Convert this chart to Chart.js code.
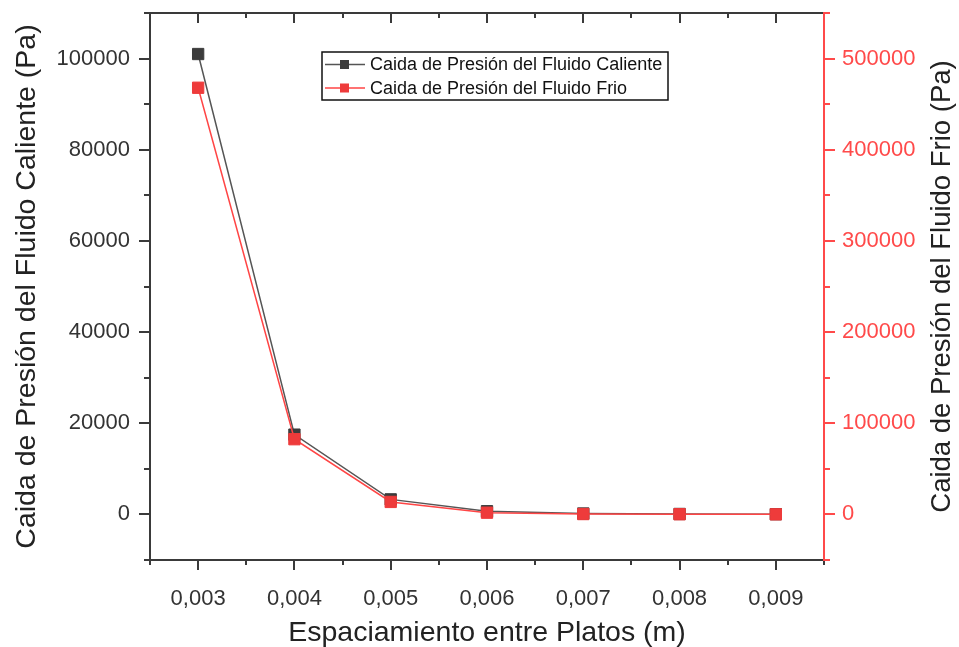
<!DOCTYPE html>
<html>
<head>
<meta charset="utf-8">
<script src="https://cdn.jsdelivr.net/npm/chart.js@4.4.1/dist/chart.umd.min.js"></script>
<style>
  html, body { margin: 0; padding: 0; background: #fff; }
  #wrap { width: 959px; height: 647px; }
</style>
</head>
<body>
<div id="wrap"><canvas id="chart-line"></canvas></div>
<script>
// plate spacing (m) and pressure drops (Pa)
var spacing = [0.003, 0.004, 0.005, 0.006, 0.007, 0.008, 0.009];
var hotDrop = [101000, 17500, 3300, 700, 200, 100, 50];
var coldDrop = [468000, 82500, 13700, 1900, 400, 200, 100];

var hotLabel = 'Caida de Presión del Fluido Caliente';
var coldLabel = 'Caida de Presión del Fluido Frio';
var xTitle = 'Espaciamiento entre Platos (m)';
var yTitle = 'Caida de Presión del Fluido Caliente (Pa)';
var y2Title = 'Caida de Presión del Fluido Frio (Pa)';

var FONT = "'Liberation Sans', Arial, sans-serif";
var DARK = '#3a3a3a';
var RED = '#ff4a4a';

Chart.defaults.font.family = FONT;

function toPoints(xs, ys) {
  return xs.map(function (x, i) { return { x: x, y: ys[i] }; });
}

// keep the plot box fixed: no extra room for half labels
function noEdgePadding(s) {
  s.paddingTop = 0; s.paddingBottom = 0;
  s.paddingLeft = 0; s.paddingRight = 0;
}

// axis lines + major/minor ticks, right-hand title, framed legend
var axisFrame = {
  id: 'axisFrame',
  afterDraw: function (chart) {
    var c = chart.ctx, a = chart.chartArea;
    var sx = chart.scales.x, sy = chart.scales.y, sy2 = chart.scales.y2;
    var i, v, p, len;
    c.save();
    c.lineWidth = 2;
    c.strokeStyle = DARK;
    c.beginPath();
    c.moveTo(a.left, a.top); c.lineTo(a.right, a.top);
    c.moveTo(a.left, a.bottom); c.lineTo(a.right, a.bottom);
    c.moveTo(a.left, a.top); c.lineTo(a.left, a.bottom + 1);
    // x: every 0.0005, labelled every 0.001
    for (i = 5; i <= 19; i++) {
      p = Math.round(sx.getPixelForValue(i * 0.0005));
      len = i % 2 === 0 ? 10 : 5;
      c.moveTo(p, a.bottom); c.lineTo(p, a.bottom + len);
      c.moveTo(p, a.top); c.lineTo(p, a.top + len);
    }
    // left y: every 10000, labelled every 20000
    for (v = -10000; v <= 110000; v += 10000) {
      p = Math.round(sy.getPixelForValue(v));
      len = v % 20000 === 0 ? 11 : 6;
      c.moveTo(a.left, p); c.lineTo(a.left - len, p);
    }
    c.stroke();

    // right y axis in red
    c.strokeStyle = RED;
    c.beginPath();
    c.moveTo(a.right, a.top - 1); c.lineTo(a.right, a.bottom + 1);
    for (v = -50000; v <= 550000; v += 50000) {
      p = Math.round(sy2.getPixelForValue(v));
      len = v % 100000 === 0 ? 11 : 6;
      c.moveTo(a.right, p); c.lineTo(a.right + len, p);
    }
    c.stroke();

    // right title, reading bottom to top
    c.fillStyle = '#222';
    c.font = '27.5px ' + FONT;
    c.textAlign = 'center';
    c.textBaseline = 'middle';
    c.translate(942, (a.top + a.bottom) / 2);
    c.rotate(-Math.PI / 2);
    c.fillText(y2Title, 0, 0);
    c.restore();

    // legend
    c.save();
    var bx = 322, by = 52, bw = 346, bh = 48;
    c.lineWidth = 1.5;
    c.strokeStyle = '#111';
    c.strokeRect(bx, by, bw, bh);
    c.font = '18px ' + FONT;
    c.textAlign = 'left';
    c.textBaseline = 'middle';
    chart.data.datasets.forEach(function (ds, k) {
      var ry = by + 12.5 + k * 23.5;
      c.strokeStyle = ds.borderColor;
      c.lineWidth = 1.5;
      c.beginPath();
      c.moveTo(bx + 3, ry); c.lineTo(bx + 43, ry);
      c.stroke();
      c.fillStyle = ds.pointBackgroundColor;
      c.fillRect(bx + 18, ry - 4.5, 9, 9);
      c.fillStyle = '#111';
      c.fillText(ds.label, bx + 48, ry + 1);
    });
    c.restore();
  }
};

new Chart(document.getElementById('chart-line').getContext('2d'), {
  type: 'line',
  data: {
    datasets: [
      {
        label: hotLabel,
        data: toPoints(spacing, hotDrop),
        yAxisID: 'y',
        order: 2,
        borderColor: '#555555',
        borderWidth: 1.5,
        pointStyle: 'rect',
        pointRadius: 8,
        pointBorderWidth: 1,
        pointBackgroundColor: '#3c3c3c',
        pointBorderColor: '#3c3c3c',
        tension: 0,
        fill: false
      },
      {
        label: coldLabel,
        data: toPoints(spacing, coldDrop),
        yAxisID: 'y2',
        order: 1,
        borderColor: '#ff4545',
        borderWidth: 1.5,
        pointStyle: 'rect',
        pointRadius: 8,
        pointBorderWidth: 1,
        pointBackgroundColor: '#ee3b3b',
        pointBorderColor: '#ee3b3b',
        tension: 0,
        fill: false
      }
    ]
  },
  options: {
    responsive: true,
    maintainAspectRatio: false,
    animation: false,
    layout: { padding: { top: 13, left: 0, right: 0, bottom: 0 } },
    plugins: {
      legend: { display: false },
      tooltip: { enabled: false }
    },
    scales: {
      x: {
        type: 'linear',
        position: 'bottom',
        min: 0.0025,
        max: 0.0095,
        grid: { display: false, drawTicks: false },
        border: { display: false },
        afterFit: function (s) { s.height = 87; noEdgePadding(s); },
        ticks: {
          stepSize: 0.0005,
          autoSkip: false,
          maxRotation: 0,
          padding: 26,
          color: '#333',
          font: { size: 22 },
          callback: function (v) {
            var k = v * 1000;
            if (Math.abs(k - Math.round(k)) > 1e-6) return '';
            return v.toFixed(3).replace('.', ',');
          }
        },
        title: {
          display: true,
          text: xTitle,
          color: '#222',
          font: { size: 28.5 },
          padding: { top: 0, bottom: -3 }
        }
      },
      y: {
        type: 'linear',
        position: 'left',
        min: -10000,
        max: 110000,
        grid: { display: false, drawTicks: false },
        border: { display: false },
        afterFit: function (s) { s.width = 150; noEdgePadding(s); },
        ticks: {
          stepSize: 10000,
          autoSkip: false,
          padding: 20,
          color: '#333',
          font: { size: 22 },
          callback: function (v) { return v % 20000 === 0 ? String(v) : ''; }
        },
        title: {
          display: true,
          text: yTitle,
          color: '#222',
          font: { size: 28.5 },
          padding: { top: 10, bottom: 0 }
        }
      },
      y2: {
        type: 'linear',
        position: 'right',
        min: -50000,
        max: 550000,
        grid: { display: false, drawTicks: false },
        border: { display: false },
        afterFit: function (s) { s.width = 135; noEdgePadding(s); },
        ticks: {
          stepSize: 50000,
          autoSkip: false,
          padding: 18,
          color: RED,
          font: { size: 22 },
          callback: function (v) { return v % 100000 === 0 ? String(v) : ''; }
        },
        title: { display: false }
      }
    }
  },
  plugins: [axisFrame]
});
</script>
</body>
</html>
